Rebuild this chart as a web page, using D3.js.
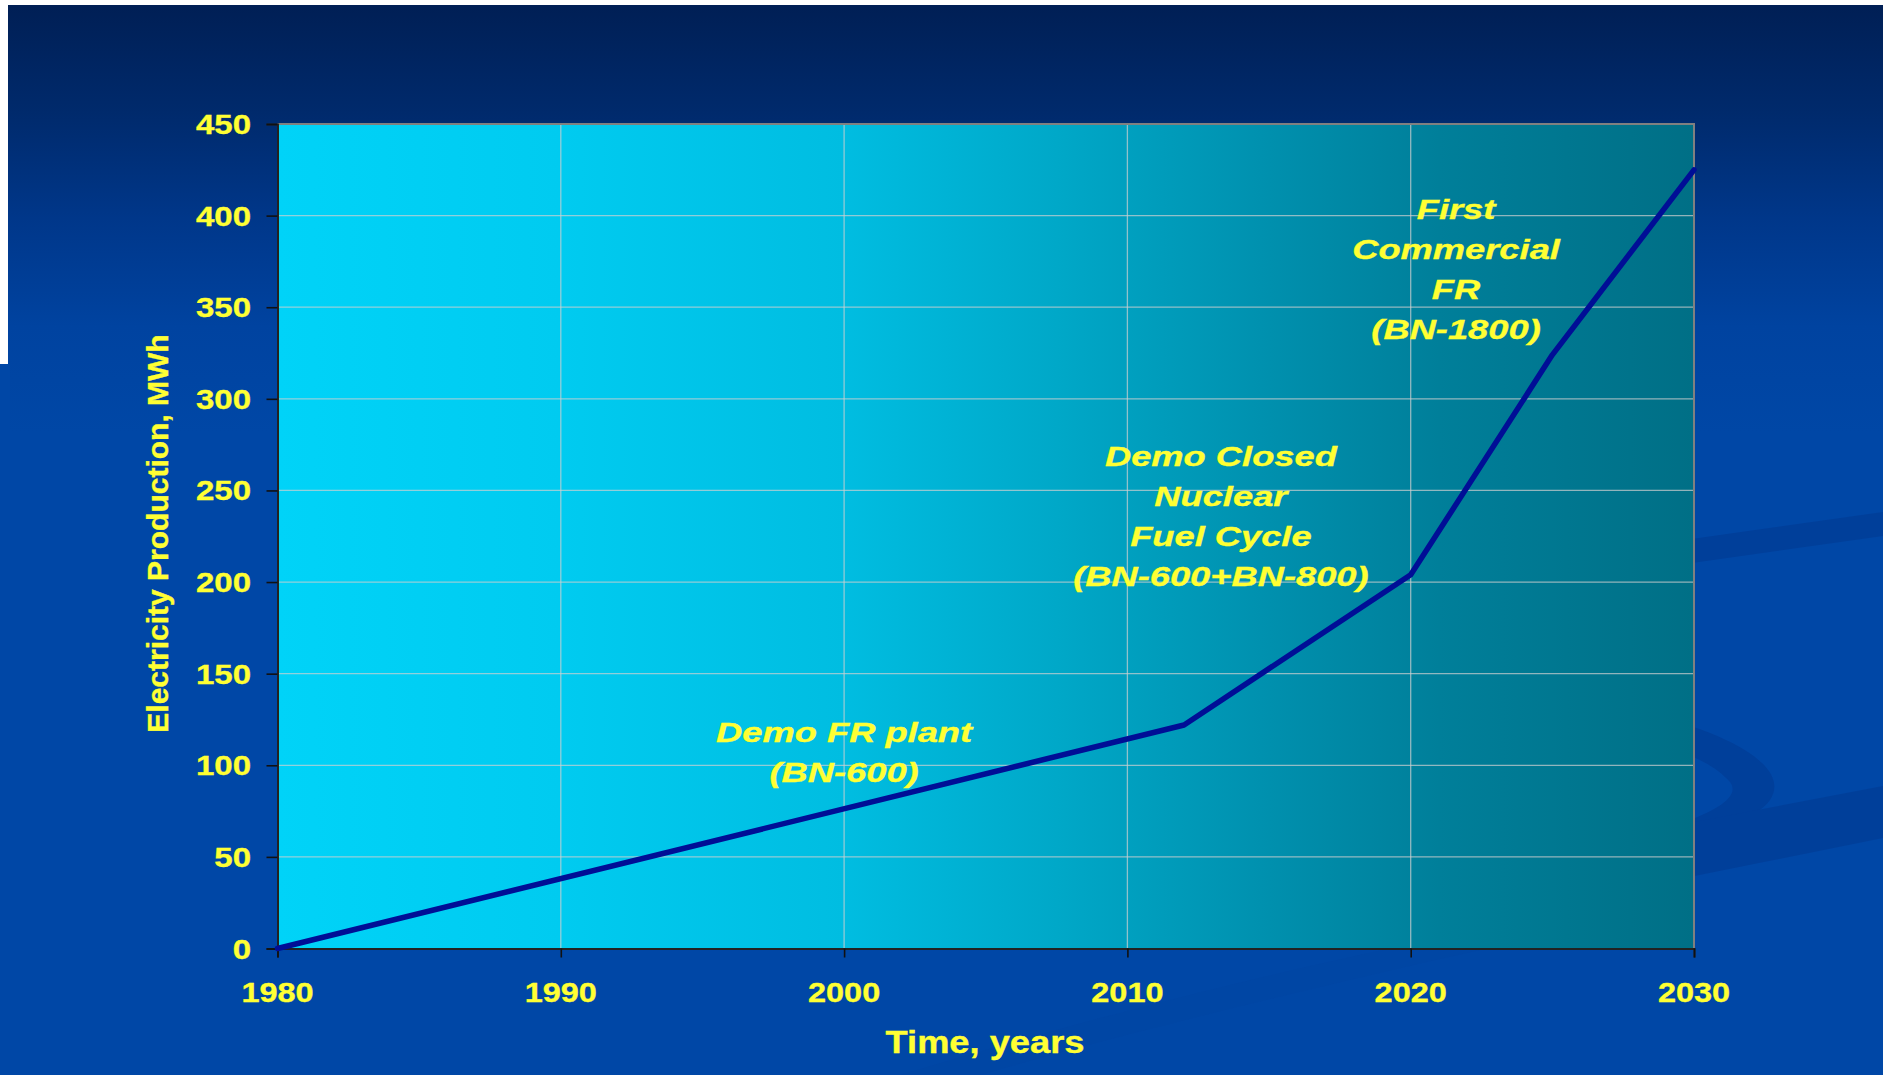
<!DOCTYPE html>
<html>
<head>
<meta charset="utf-8">
<script src="https://cdn.jsdelivr.net/npm/d3@7"></script>
<style>
  html, body { margin: 0; padding: 0; background: #ffffff; }
  svg { display: block; }
  text { font-family: "Liberation Sans", Arial, sans-serif; font-weight: bold; fill: #ffff33; stroke: #ffff33; stroke-width: 0.35px; }
</style>
</head>
<body>
<svg id="chart" width="1883" height="1075"></svg>
<script>
// ---- data ----
const years = [1980, 2012, 2020, 2025, 2030];
const production = [0, 122, 204, 324, 425];
const xTickValues = [1980, 1990, 2000, 2010, 2020, 2030];
const yTickValues = [0, 50, 100, 150, 200, 250, 300, 350, 400, 450];
const xTitle = "Time, years";
const yTitle = "Electricity Production, MWh";
const annotationTexts = [
  ["Demo FR plant", "(BN-600)"],
  ["Demo Closed", "Nuclear", "Fuel Cycle", "(BN-600+BN-800)"],
  ["First", "Commercial", "FR", "(BN-1800)"]
];

// ---- layout ----
const W = 1883, H = 1075;
const plot = { left: 277.5, right: 1694, top: 124, bottom: 948.5 };
const svg = d3.select("#chart");
const defs = svg.append("defs");

// slide background gradient
const bg = defs.append("linearGradient").attr("id", "bgGrad")
  .attr("x1", 0).attr("y1", 0).attr("x2", 0).attr("y2", 1);
[[0, "#001f55"], [0.1, "#002a6c"], [0.2, "#00378a"], [0.3, "#0043a0"], [0.4, "#0047a6"], [1, "#0047a6"]]
  .forEach(([o, c]) => bg.append("stop").attr("offset", o).attr("stop-color", c));

// plot area gradient
const pg = defs.append("linearGradient").attr("id", "plotGrad")
  .attr("x1", 0).attr("y1", 0).attr("x2", 1).attr("y2", 0);
[[0, "#00d3f8"], [0.2, "#00cbf0"], [0.4, "#00bde1"], [0.55, "#00a8c8"], [0.7, "#0090ae"], [0.82, "#007f9a"], [1, "#006f86"]]
  .forEach(([o, c]) => pg.append("stop").attr("offset", o).attr("stop-color", c));

// background: white page with blue slide (white margin top and upper-left)
svg.append("rect").attr("x", 0).attr("y", 0).attr("width", W).attr("height", H).attr("fill", "#ffffff");
svg.append("rect").attr("x", 8).attr("y", 5).attr("width", W - 8).attr("height", H - 5).attr("fill", "url(#bgGrad)");
svg.append("rect").attr("x", 0).attr("y", 364).attr("width", 10).attr("height", H - 364).attr("fill", "#0047a6");

// decorative swooshes
const deco = svg.append("g").attr("fill", "#003e98").attr("opacity", 0.85);
deco.append("path").attr("d", "M1600,552 L1883,512 L1883,536 L1600,576 Z");
deco.append("path").attr("d", "M1640,712 C1740,735 1790,770 1770,800 C1755,820 1720,830 1695,836 L1695,818 C1720,808 1740,795 1730,782 C1715,765 1690,752 1640,740 Z");
deco.append("path").attr("d", "M1600,840 L1883,786 L1883,838 L1600,895 Z");
svg.append("path").attr("d", "M900,1075 C1050,1030 1250,975 1480,930 L1480,950 C1280,995 1100,1040 980,1075 Z")
  .attr("fill", "#0043a0").attr("opacity", 0.25);

// scales
const x = d3.scaleLinear().domain([1980, 2030]).range([plot.left, plot.right]);
const y = d3.scaleLinear().domain([0, 450]).range([plot.bottom, plot.top]);

// plot area
svg.append("rect").attr("x", plot.left).attr("y", plot.top)
  .attr("width", plot.right - plot.left).attr("height", plot.bottom - plot.top)
  .attr("fill", "url(#plotGrad)");

// gridlines
const grid = svg.append("g").attr("stroke", "#d0d0d0").attr("stroke-opacity", 0.7).attr("stroke-width", 1.3);
grid.selectAll("line.h").data(yTickValues.filter(v => v > 0 && v < 450)).enter().append("line")
  .attr("x1", plot.left).attr("x2", plot.right).attr("y1", d => y(d)).attr("y2", d => y(d));
grid.selectAll("line.v").data(xTickValues.filter(v => v > 1980 && v < 2030)).enter().append("line")
  .attr("y1", plot.top).attr("y2", plot.bottom).attr("x1", d => x(d)).attr("x2", d => x(d));

// top & right border (gray)
svg.append("path")
  .attr("d", `M${plot.left},${plot.top} L${plot.right},${plot.top} L${plot.right},${plot.bottom}`)
  .attr("fill", "none").attr("stroke", "#808080").attr("stroke-width", 2);

// axes
const yAxis = svg.append("g").attr("transform", `translate(${plot.left},0)`)
  .call(d3.axisLeft(y).tickValues(yTickValues).tickSize(11).tickFormat(""));
const xAxis = svg.append("g").attr("transform", `translate(0,${plot.bottom})`)
  .call(d3.axisBottom(x).tickValues(xTickValues).tickSize(9).tickFormat(""));
[yAxis, xAxis].forEach(a => {
  a.select(".domain").attr("stroke", "#222").attr("stroke-width", 2);
  a.selectAll(".tick line").attr("stroke", "#111").attr("stroke-width", 1.6);
});

// tick labels
svg.append("g").selectAll("text").data(yTickValues).enter().append("text")
  .attr("transform", d => `translate(251,${y(d) + 10}) scale(1.2,1)`)
  .attr("text-anchor", "end").attr("font-size", 27.5).text(d => d);
svg.append("g").selectAll("text").data(xTickValues).enter().append("text")
  .attr("transform", d => `translate(${x(d)},1002) scale(1.18,1)`)
  .attr("text-anchor", "middle").attr("font-size", 27.5).text(d => d);

// axis titles
svg.append("text").attr("transform", "translate(985,1053) scale(1.17,1)")
  .attr("text-anchor", "middle").attr("font-size", 31).text(xTitle);
svg.append("text").attr("transform", "translate(167.5,533.5) rotate(-90)")
  .attr("text-anchor", "middle").attr("font-size", 30).text(yTitle);

// line
const pts = years.map((yr, i) => [yr, production[i]]);
svg.append("path").datum(pts)
  .attr("d", d3.line().x(d => x(d[0])).y(d => y(d[1])))
  .attr("fill", "none").attr("stroke", "#000e96").attr("stroke-width", 5.5)
  .attr("stroke-linejoin", "round").attr("stroke-linecap", "round");

// annotations (anchored in data coordinates: year, value of first baseline)
const annotationAnchors = [[2000, 112.8], [2013.3, 263.5], [2021.6, 398]];
const lineGap = 40;
annotationTexts.forEach((lines, i) => {
  const [ax, ay] = annotationAnchors[i];
  const g = svg.append("g").attr("transform", `translate(${x(ax)},${y(ay)})`);
  g.selectAll("text").data(lines).enter().append("text")
    .attr("transform", (d, j) => `translate(0,${j * lineGap}) scale(1.32,1)`)
    .attr("text-anchor", "middle").attr("font-size", 27.5).attr("font-style", "italic")
    .text(d => d);
});
</script>
</body>
</html>
